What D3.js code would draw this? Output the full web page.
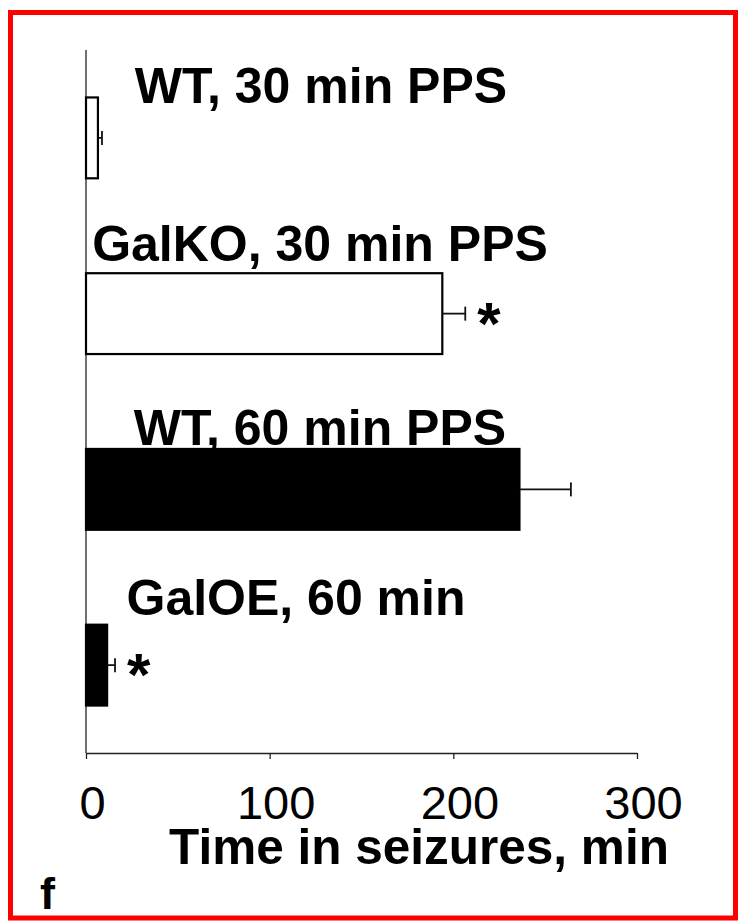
<!DOCTYPE html>
<html>
<head>
<meta charset="utf-8">
<script src="https://cdn.jsdelivr.net/npm/d3@7"></script>
<style>
  body { margin: 0; background: #fff; }
  text { font-family: "Liberation Sans", Arial, Helvetica, sans-serif; fill: #000; }
</style>
</head>
<body>
<div id="chart"></div>
<script>
// data
const groups = ["WT, 30 min PPS", "GalKO, 30 min PPS", "WT, 60 min PPS", "GalOE, 60 min"];
const seizureTime = [6.5, 194, 236, 11.5];
const seizureErr = [2.2, 12.5, 28, 4.3];
const significant = [false, true, false, true];
const filled = [false, false, true, true];
const xTicks = [0, 100, 200, 300];
const xTitle = "Time in seizures, min";
const panelLetter = "f";

// layout
const W = 739, H = 922;
const axisY = 753;
const labelCenter = [321, 320, 320, 296];
const labelDy = [6, -12, -4, -10];

const svg = d3.select("#chart").append("svg")
    .attr("width", W)
    .attr("height", H);

svg.append("rect")
    .attr("width", W).attr("height", H)
    .attr("fill", "#fff");

const x = d3.scaleLinear()
    .domain([0, 300])
    .range([86, 637]);

const y = d3.scaleBand()
    .domain(groups)
    .range([50, axisY])
    .paddingInner(0.54)
    .paddingOuter(0.27);

// y axis (plain line, no ticks)
svg.append("line")
    .attr("x1", x(0)).attr("x2", x(0))
    .attr("y1", 50).attr("y2", axisY)
    .attr("stroke", "#222").attr("stroke-width", 1.3);

// x axis
const xAxis = d3.axisBottom(x)
    .tickValues(xTicks)
    .tickSize(6)
    .tickSizeOuter(0);

const gx = svg.append("g")
    .attr("transform", `translate(0,${axisY})`)
    .call(xAxis);
gx.select(".domain").attr("stroke", "#222").attr("stroke-width", 1.3);
gx.selectAll(".tick line").attr("stroke", "#222").attr("stroke-width", 1.3);
gx.selectAll(".tick text")
    .attr("font-size", 47)
    .attr("font-family", "Liberation Sans, Arial, sans-serif")
    .attr("fill", "#000")
    .attr("x", 6)
    .attr("y", 66)
    .attr("dy", null);

// bars
const rows = groups.map((g, i) => ({
    name: g, v: seizureTime[i], e: seizureErr[i], sig: significant[i], fill: filled[i], i: i
}));
const mid = d => y(d.name) + y.bandwidth() / 2;

svg.selectAll(".bar")
    .data(rows)
    .enter().append("rect")
    .attr("class", "bar")
    .attr("x", x(0))
    .attr("y", d => y(d.name))
    .attr("width", d => x(d.v) - x(0))
    .attr("height", y.bandwidth())
    .attr("fill", d => d.fill ? "#000" : "#fff")
    .attr("stroke", "#000")
    .attr("stroke-width", 2.2);

// error bars (one-sided)
const err = svg.selectAll(".err")
    .data(rows)
    .enter().append("g")
    .attr("class", "err")
    .attr("stroke", "#111")
    .attr("stroke-width", 1.8);
err.append("line")
    .attr("x1", d => x(d.v))
    .attr("x2", d => x(d.v + d.e))
    .attr("y1", mid)
    .attr("y2", mid);
err.append("line")
    .attr("x1", d => x(d.v + d.e))
    .attr("x2", d => x(d.v + d.e))
    .attr("y1", d => mid(d) - 7)
    .attr("y2", d => mid(d) + 7);

// significance stars
svg.selectAll(".star")
    .data(rows.filter(d => d.sig))
    .enter().append("text")
    .attr("class", "star")
    .attr("x", d => x(d.v + d.e) + 12)
    .attr("y", d => mid(d) + 30)
    .attr("font-size", 60)
    .attr("font-weight", "bold")
    .text("*");

// group labels
svg.selectAll(".glabel")
    .data(rows)
    .enter().append("text")
    .attr("class", "glabel")
    .attr("x", d => labelCenter[d.i])
    .attr("y", d => y(d.name) + labelDy[d.i])
    .attr("text-anchor", "middle")
    .attr("font-size", 50)
    .attr("font-weight", "bold")
    .text(d => d.name);

// axis title
svg.append("text")
    .attr("x", 419)
    .attr("y", 864)
    .attr("text-anchor", "middle")
    .attr("font-size", 49.5)
    .attr("font-weight", "bold")
    .text(xTitle);

// panel letter
svg.append("text")
    .attr("x", 40)
    .attr("y", 909)
    .attr("font-size", 45)
    .attr("font-weight", "bold")
    .text(panelLetter);

// red frame
svg.append("rect")
    .attr("x", 10.5).attr("y", 12.5)
    .attr("width", 725).attr("height", 905.5)
    .attr("fill", "none")
    .attr("stroke", "#f00")
    .attr("stroke-width", 5);
</script>
</body>
</html>
